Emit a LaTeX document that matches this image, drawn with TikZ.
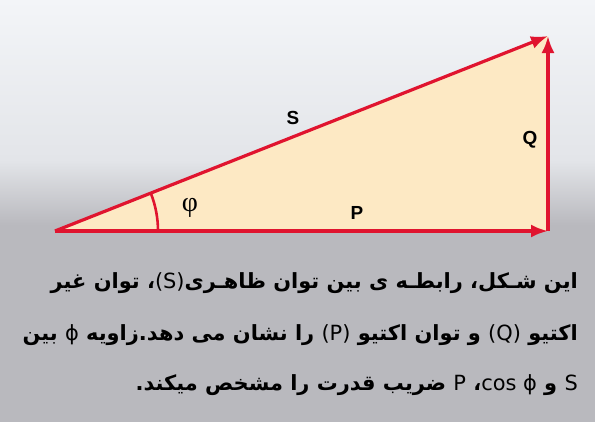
\documentclass[tikz,border=0pt]{standalone}
\usepackage{fontspec}
\usetikzlibrary{arrows.meta}
\TeXXeTstate=1
\newfontfamily\arabicfont[Script=Arabic]{DejaVu Sans}
\newfontfamily\latinfont{DejaVu Sans}
\newfontfamily\labelfont{Liberation Sans}
\newfontfamily\greekfont{Liberation Serif}
\definecolor{vecred}{HTML}{E0142F}
\definecolor{trifill}{HTML}{FDE9C4}
\definecolor{bgtop}{HTML}{F3F5F8}
\definecolor{bgmid}{HTML}{E3E5E9}
\definecolor{bggray}{HTML}{B9B9BE}
\newcommand{\lat}[1]{\beginL{\latinfont\mdseries #1}\endL}
\begin{document}
\begin{tikzpicture}[x=1bp,y=1bp]
			\tikzstyle{vec}=[draw=vecred,line width=3.2bp,-{Latex[length=17bp,width=13bp]}]
			\tikzstyle{lbl}=[inner sep=0pt,font=\labelfont\bfseries\fontsize{19}{19}\selectfont]
			\tikzstyle{txt}=[inner sep=0pt,anchor=base east,font=\arabicfont\bfseries\fontsize{21}{25}\selectfont]
			\useasboundingbox (0,0) rectangle (595,422);
			% background
			\fill[bggray] (0,0) rectangle (595,422);
			\shade[top color=bgtop,bottom color=bgmid] (0,262) rectangle (595,422);
			\shade[top color=bgmid,bottom color=bggray] (0,197) rectangle (595,262);
			
			\begin{scope}
			\coordinate (O) at (55,191);
			\coordinate (A) at (548,191);
			\coordinate (B) at (548,386);
			\coordinate (r0) at (158,191);
			\fill[trifill] (O) -- (A) -- (B) -- cycle;
			\node[lbl] (S) at (293,304) {S};
			\node[lbl] (Q) at (530,282) {Q};
			\node[lbl] (P) at (357,209) {P};
			\node[inner sep=0pt,font=\greekfont\fontsize{28}{28}\selectfont] (phi) at (190,214) {φ};
			\end{scope}
			
			\draw[vecred,line width=2.6bp] (r0) arc[start angle=0,end angle=21.5,radius=103];
			\path
			(O) edge[vec] (A)
			(A) edge[vec] (B)
			(O) edge[vec] (B)
			;
			
			% caption
			\node[txt] (line1) at (578,134) {\beginR این شـکل، رابطـه ی بین توان ظاهـری\lat{(S)}، توان غیر\endR};
			\node[txt] (line2) at (578,82) {\beginR اکتیو \lat{(Q)} و توان اکتیو \lat{(P)} را نشان می دهد.زاویه \lat{ϕ} بین\endR};
			\node[txt] (line3) at (578,32) {\beginR\lat{S} و \lat{cos ϕ}، \lat{P} ضریب قدرت را مشخص میکند.\endR};
		\end{tikzpicture}
\end{document}
